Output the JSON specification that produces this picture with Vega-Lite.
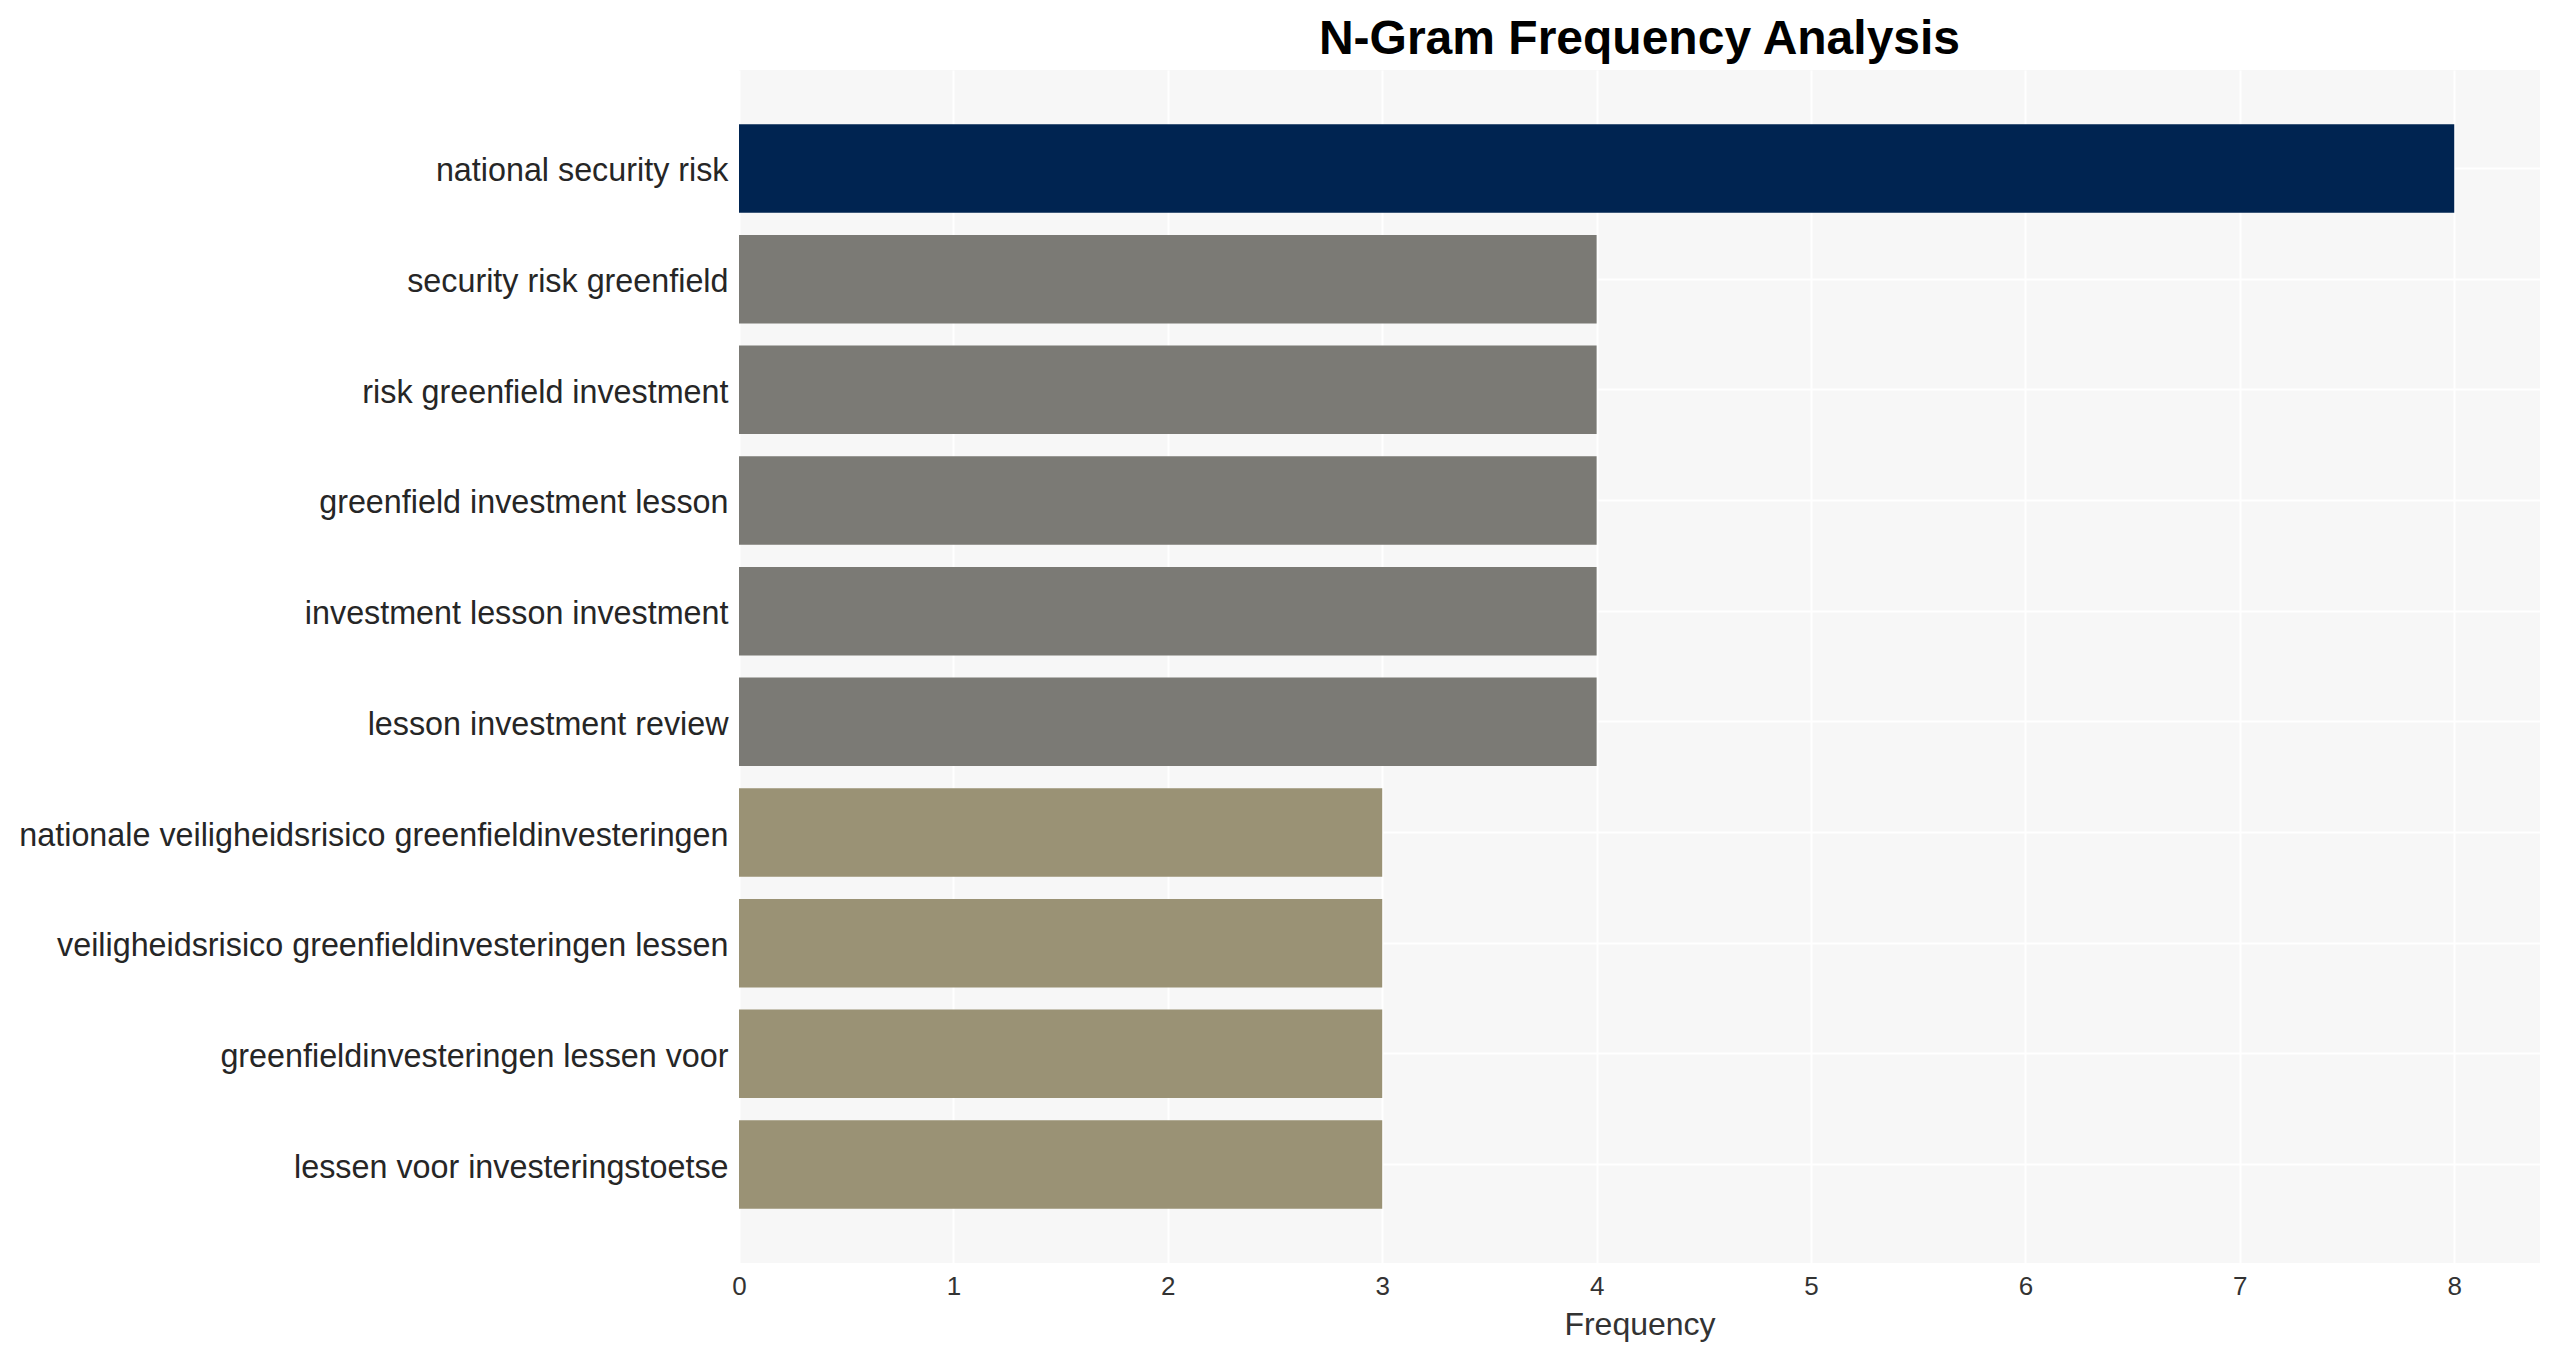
{
  "$schema": "https://vega.github.io/schema/vega-lite/v6.json",
  "autosize": {"type": "none"},
  "width": 1801,
  "height": 1193,
  "padding": {"left": 739, "top": 70, "right": 20, "bottom": 95},
  "background": "#ffffff",
  "title": {
    "text": "N-Gram Frequency Analysis",
    "font": "Liberation Sans",
    "fontSize": 48,
    "fontWeight": "bold",
    "color": "#000000",
    "anchor": "middle",
    "offset": 6
  },
  "config": {
    "view": {"fill": "#f7f7f7", "stroke": null},
    "axis": {"gridColor": "#ffffff", "gridWidth": 2, "domain": false, "ticks": false, "labelFont": "Liberation Sans", "titleFont": "Liberation Sans"}
  },
  "data": {
    "values": [
      {"ngram": "national security risk", "frequency": 8},
      {"ngram": "security risk greenfield", "frequency": 4},
      {"ngram": "risk greenfield investment", "frequency": 4},
      {"ngram": "greenfield investment lesson", "frequency": 4},
      {"ngram": "investment lesson investment", "frequency": 4},
      {"ngram": "lesson investment review", "frequency": 4},
      {"ngram": "nationale veiligheidsrisico greenfieldinvesteringen", "frequency": 3},
      {"ngram": "veiligheidsrisico greenfieldinvesteringen lessen", "frequency": 3},
      {"ngram": "greenfieldinvesteringen lessen voor", "frequency": 3},
      {"ngram": "lessen voor investeringstoetse", "frequency": 3}
    ]
  },
  "mark": {"type": "bar"},
  "encoding": {
    "y": {
      "field": "ngram",
      "type": "nominal",
      "sort": null,
      "scale": {"paddingInner": 0.2, "paddingOuter": 0.49},
      "axis": {"title": null, "labelFontSize": 32.3, "labelColor": "#262626", "labelPadding": 11, "labelBaseline": "middle", "labelOffset": 3, "grid": true, "bandPosition": 0.5, "labelLimit": 1000}
    },
    "x": {
      "field": "frequency",
      "type": "quantitative",
      "scale": {"domain": [0, 8.4], "nice": false},
      "axis": {"title": "Frequency", "values": [0,1,2,3,4,5,6,7,8], "format": "d", "labelFlush": false, "labelFontSize": 26, "labelColor": "#333333", "labelPadding": 10, "titleFontSize": 32, "titleFontWeight": "normal", "titleColor": "#333333", "titlePadding": 10, "grid": true}
    },
    "color": {
      "field": "frequency",
      "type": "ordinal",
      "scale": {"domain": [8, 4, 3], "range": ["#002451", "#7b7a75", "#9a9275"]},
      "legend": null
    }
  }
}
